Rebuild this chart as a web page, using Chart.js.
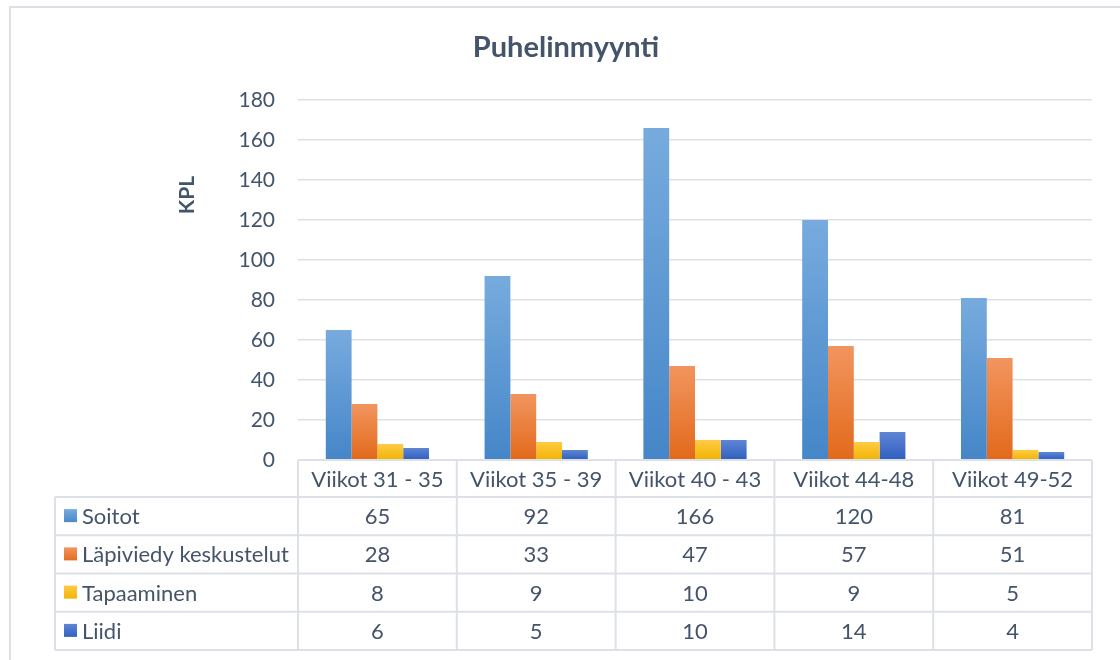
<!DOCTYPE html>
<html>
<head>
<meta charset="utf-8">
<style>
  html, body { margin: 0; padding: 0; background: #ffffff; }
  #wrap { width: 1120px; height: 660px; position: relative; }
</style>
<script src="https://cdn.jsdelivr.net/npm/chart.js@4.4.1/dist/chart.umd.min.js"></script>
</head>
<body>
<div id="wrap"><canvas id="c" width="1120" height="660"></canvas></div>
<script>
// Sales calls per week range
const categories = ['Viikot 31 - 35', 'Viikot 35 - 39', 'Viikot 40 - 43', 'Viikot 44-48', 'Viikot 49-52'];
const seriesNames = ['Soitot', 'Läpiviedy keskustelut', 'Tapaaminen', 'Liidi'];
const soitot = [65, 92, 166, 120, 81];
const lapiviedyt = [28, 33, 47, 57, 51];
const tapaamiset = [8, 9, 10, 9, 5];
const liidit = [6, 5, 10, 14, 4];
const yTicks = [0, 20, 40, 60, 80, 100, 120, 140, 160, 180];

const seriesValues = [soitot, lapiviedyt, tapaamiset, liidit];
// top / bottom colours of each series' vertical gradient
const seriesColors = [
  ['#77abde', '#4586c8'],
  ['#f2955f', '#e2691a'],
  ['#ffcb45', '#f0b400'],
  ['#5f86d5', '#2f5ebe']
];

const TEXT = '#44546a';
const LINE = '#dde1e7';
const FONT = 'Lato, "Open Sans", sans-serif';

function barGradient(ctx, colors, top, bottom) {
  const g = ctx.createLinearGradient(0, top, 0, bottom);
  g.addColorStop(0, colors[0]);
  g.addColorStop(1, colors[1]);
  return g;
}

function scriptedFill(idx) {
  return function (context) {
    const chart = context.chart;
    const ys = chart.scales && chart.scales.y;
    if (!ys || context.type !== 'data' || context.raw == null) return seriesColors[idx][0];
    const top = ys.getPixelForValue(context.raw);
    const bottom = ys.getPixelForValue(0);
    if (!isFinite(top) || !isFinite(bottom) || bottom - top < 1) return seriesColors[idx][1];
    return barGradient(chart.ctx, seriesColors[idx], top, bottom);
  };
}

// Frame, axis caption and the data table beneath the plot
const tablePlugin = {
  id: 'dataTable',
  beforeDraw(chart) {
    const ctx = chart.ctx;
    ctx.save();
    ctx.strokeStyle = LINE;
    ctx.lineWidth = 2;
    ctx.strokeRect(10, 7, 1130, 670);
    ctx.restore();
  },
  afterDraw(chart) {
    const ctx = chart.ctx;
    const area = chart.chartArea;
    const xs = chart.scales.x;
    const n = categories.length;
    const colW = (area.right - area.left) / n;
    const headTop = area.bottom;
    const headH = 37;
    const rowH = 38.25;
    const tableLeft = 55;
    const rows = seriesNames.length;
    const tableBottom = headTop + headH + rowH * rows;

    ctx.save();
    // caption of the value axis
    ctx.fillStyle = TEXT;
    ctx.font = 'bold 21px ' + FONT;
    ctx.textAlign = 'center';
    ctx.textBaseline = 'middle';
    ctx.translate(187, 195);
    ctx.rotate(-Math.PI / 2);
    ctx.fillText('KPL', 0, 0);
    ctx.restore();

    ctx.save();
    ctx.strokeStyle = LINE;
    ctx.lineWidth = 2;
    // horizontal lines
    ctx.beginPath();
    ctx.moveTo(area.left, headTop);
    ctx.lineTo(area.right, headTop);
    for (let r = 0; r <= rows; r++) {
      const y = headTop + headH + rowH * r;
      ctx.moveTo(tableLeft, y);
      ctx.lineTo(area.right, y);
    }
    // vertical lines
    ctx.moveTo(tableLeft, headTop + headH);
    ctx.lineTo(tableLeft, tableBottom);
    for (let i = 0; i <= n; i++) {
      const x = area.left + colW * i;
      ctx.moveTo(x, headTop);
      ctx.lineTo(x, tableBottom);
    }
    ctx.stroke();

    ctx.fillStyle = TEXT;
    ctx.font = '22px ' + FONT;
    ctx.textBaseline = 'middle';
    ctx.textAlign = 'center';
    categories.forEach((c, i) => {
      ctx.fillText(c, xs.getPixelForValue(i), headTop + headH / 2 + 1);
    });
    seriesNames.forEach((name, r) => {
      const cy = headTop + headH + rowH * (r + 0.5);
      // legend key
      ctx.fillStyle = barGradient(ctx, seriesColors[r], cy - 7, cy + 7);
      ctx.fillRect(64, cy - 7, 13, 13);
      ctx.fillStyle = TEXT;
      ctx.textAlign = 'left';
      ctx.fillText(name, 82, cy + 1);
      ctx.textAlign = 'center';
      seriesValues[r].forEach((v, i) => {
        ctx.fillText(String(v), xs.getPixelForValue(i), cy + 1);
      });
    });
    ctx.restore();
  }
};

const datasets = seriesNames.map((name, i) => ({
  label: name,
  data: seriesValues[i],
  backgroundColor: scriptedFill(i),
  borderWidth: 0,
  categoryPercentage: 0.65,
  barPercentage: 1.0
}));

new Chart(document.getElementById('c'), {
  type: 'bar',
  data: { labels: categories, datasets },
  plugins: [tablePlugin],
  options: {
    responsive: false,
    animation: false,
    layout: { padding: { left: 40, right: 28, top: 0, bottom: 200 } },
    plugins: {
      legend: { display: false },
      tooltip: { enabled: false },
      title: {
        display: true,
        text: 'Puhelinmyynti',
        color: TEXT,
        font: { family: FONT, size: 29, weight: 'bold', lineHeight: 1.2 },
        padding: { top: 30.6, bottom: 34.6 }
      }
    },
    scales: {
      x: {
        display: false
      },
      y: {
        min: 0,
        max: 180,
        afterFit(scale) { scale.width = 258; },
        afterBuildTicks(scale) { scale.ticks = yTicks.map(v => ({ value: v })); },
        border: { display: false },
        grid: { color: LINE, lineWidth: 1.6, drawTicks: false },
        ticks: {
          color: TEXT,
          font: { family: FONT, size: 21 },
          padding: 23
        }
      }
    }
  }
});
</script>
</body>
</html>
